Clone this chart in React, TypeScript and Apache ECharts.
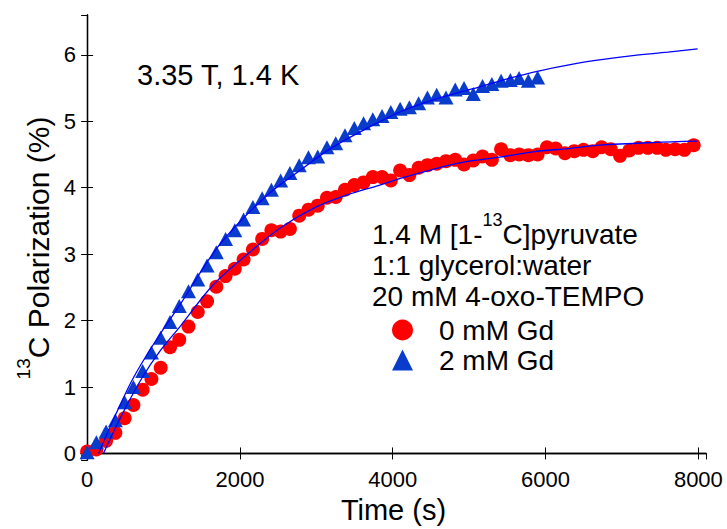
import React, { useEffect, useRef } from "react";
import * as echarts from "echarts";

const FONT = "'Liberation Sans', Arial, Helvetica, sans-serif";

// 0 mM Gd (red circles)
const timeRed = [0, 121, 248, 370, 491, 606, 727, 842, 963, 1085, 1206, 1327, 1448, 1570, 1691, 1812, 1933, 2048, 2170, 2291, 2412, 2533, 2654, 2776, 2897, 3018, 3139, 3254, 3375, 3497, 3618, 3739, 3860, 3975, 4097, 4218, 4339, 4454, 4575, 4697, 4818, 4933, 5054, 5175, 5297, 5418, 5539, 5654, 5775, 5896, 6018, 6133, 6254, 6375, 6497, 6618, 6733, 6854, 6975, 7096, 7218, 7339, 7460, 7575, 7696, 7817, 7939];
const polRed = [0.03, 0.06, 0.19, 0.31, 0.53, 0.73, 0.96, 1.12, 1.29, 1.6, 1.71, 1.91, 2.13, 2.29, 2.51, 2.67, 2.78, 2.92, 3.07, 3.23, 3.36, 3.34, 3.38, 3.58, 3.67, 3.73, 3.85, 3.86, 3.97, 4.04, 4.08, 4.16, 4.16, 4.11, 4.26, 4.19, 4.3, 4.34, 4.36, 4.4, 4.42, 4.35, 4.41, 4.47, 4.42, 4.58, 4.49, 4.5, 4.49, 4.5, 4.61, 4.59, 4.52, 4.55, 4.57, 4.55, 4.61, 4.58, 4.48, 4.56, 4.6, 4.6, 4.6, 4.57, 4.58, 4.57, 4.64];

// 2 mM Gd (blue triangles)
const timeBlue = [0, 121, 248, 370, 491, 606, 727, 842, 963, 1085, 1206, 1327, 1448, 1570, 1691, 1812, 1933, 2048, 2170, 2291, 2412, 2533, 2654, 2776, 2897, 3018, 3139, 3254, 3375, 3497, 3618, 3739, 3860, 3975, 4097, 4218, 4339, 4454, 4575, 4697, 4818, 4933, 5054, 5175, 5297, 5418, 5539, 5654, 5775, 5896];
const polBlue = [0.02, 0.17, 0.33, 0.5, 0.77, 1.0, 1.24, 1.52, 1.74, 1.98, 2.22, 2.44, 2.62, 2.83, 3.03, 3.23, 3.36, 3.52, 3.71, 3.84, 3.97, 4.11, 4.22, 4.34, 4.46, 4.47, 4.61, 4.67, 4.79, 4.9, 4.97, 5.03, 5.08, 5.14, 5.19, 5.21, 5.27, 5.36, 5.4, 5.36, 5.48, 5.5, 5.41, 5.53, 5.56, 5.61, 5.62, 5.65, 5.61, 5.66];

// fitted curves
const fitRedTime = [213, 450, 720, 960, 1216, 1651, 2088, 2523, 2958, 3395, 3830, 4100, 4600, 5000, 5400, 5834, 6300, 6706, 7400, 7991];
const fitRedPol = [0, 0.57, 1.14, 1.55, 1.91, 2.54, 2.99, 3.39, 3.69, 3.89, 4.04, 4.14, 4.3, 4.4, 4.46, 4.54, 4.59, 4.64, 4.68, 4.7];
const fitBlueTime = [150, 380, 606, 900, 1216, 1739, 2349, 2784, 3200, 3656, 4092, 4550, 5050, 5500, 5922, 6500, 7141, 7600, 7991];
const fitBluePol = [0, 0.6, 1.14, 1.7, 2.24, 3.15, 3.88, 4.26, 4.6, 4.89, 5.14, 5.33, 5.49, 5.64, 5.76, 5.89, 5.99, 6.04, 6.09];

const seriesNames = ["0 mM Gd", "2 mM Gd"];
const infoLines = ["1.4 M [1-{sup|13}C]pyruvate", "1:1 glycerol:water", "20 mM 4-oxo-TEMPO"];
const conditionText = "3.35 T, 1.4 K";
const yTitle = "{sup|13}C Polarization (%)";
const xTitle = "Time (s)";

const zip = (a: number[], b: number[]) => a.map((v, i) => [v, b[i]]);

export default function App() {
  const ref = useRef<HTMLDivElement>(null);
  useEffect(() => {
    if (!ref.current) return;
    const chart = echarts.init(ref.current, undefined, { renderer: "svg" });
    const axisLine = { show: true, lineStyle: { color: "#000", width: 1.3 } };
    const tick = { show: true, inside: true, length: 6, lineStyle: { color: "#000", width: 1 } };
    const option: any = {
      animation: false,
      backgroundColor: "#fff",
      grid: { left: 81, right: 21, top: 15, bottom: 66, containLabel: false },
      xAxis: [
        {
          type: "value", min: -80, max: 8100, splitNumber: 4, position: "bottom",
          name: xTitle, nameLocation: "middle", nameGap: 31,
          nameTextStyle: { fontSize: 29, color: "#000", fontFamily: FONT },
          axisLine, axisTick: tick, splitLine: { show: false },
          axisLabel: {
            showMinLabel: false, showMaxLabel: false, fontSize: 22, color: "#000", margin: 8, fontFamily: FONT,
            formatter: (v: number) => (v % 2000 === 0 ? String(v) : ""),
          },
        },
        {
          type: "value", min: -80, max: 8100, splitNumber: 4, position: "top",
          axisLine, axisTick: tick, splitLine: { show: false }, axisLabel: { show: false },
        },
      ],
      yAxis: [
        {
          type: "value", min: -0.1, max: 6.6, splitNumber: 7, position: "left",
          axisLine, axisTick: tick, splitLine: { show: false },
          axisLabel: {
            showMinLabel: false, showMaxLabel: false, fontSize: 22, color: "#000", margin: 5, fontFamily: FONT,
            formatter: (v: number) => (Math.abs(v - Math.round(v)) < 1e-9 ? String(Math.round(v)) : ""),
          },
        },
        {
          type: "value", min: -0.1, max: 6.6, splitNumber: 7, position: "right",
          axisLine, axisTick: tick, splitLine: { show: false }, axisLabel: { show: false },
        },
      ],
      legend: {
        orient: "vertical", left: 392, top: 316, itemWidth: 21, itemHeight: 21, itemGap: 2, padding: 0,
        data: seriesNames,
        textStyle: { fontSize: 28, color: "#000", fontFamily: FONT, padding: [0, 0, 0, 21] },
      },
      graphic: [
        {
          type: "text", x: 38, y: 248, rotation: Math.PI / 2,
          style: {
            text: yTitle, fontSize: 30, fontFamily: FONT, fill: "#000", align: "center", verticalAlign: "middle", lineHeight: 32,
            rich: { sup: { fontSize: 19, fontFamily: FONT, fill: "#000", lineHeight: 32, padding: [0, 0, 30, 0] } },
          },
        },
        {
          type: "text", x: 137, y: 75,
          style: { text: conditionText, fontSize: 29, fontFamily: FONT, fill: "#000", align: "left", verticalAlign: "middle" },
        },
        ...infoLines.map((t, i) => ({
          type: "text", x: 372, y: 234 + i * 31,
          style: {
            text: t, fontSize: 28, fontFamily: FONT, fill: "#000", align: "left", verticalAlign: "middle", lineHeight: 30,
            rich: { sup: { fontSize: 18, fontFamily: FONT, fill: "#000", lineHeight: 30, padding: [0, 0, 28, 0] } },
          },
        })),
      ],
      series: [
        {
          name: seriesNames[0], type: "scatter", data: zip(timeRed, polRed), symbol: "circle", symbolSize: 14,
          itemStyle: { color: "#ff0000", opacity: 1 }, z: 2,
        },
        {
          name: seriesNames[1], type: "scatter", data: zip(timeBlue, polBlue), symbol: "triangle", symbolSize: [15, 14],
          itemStyle: { color: "#0a3ccc", opacity: 1 }, z: 3,
        },
        {
          name: "fit 0 mM", type: "line", data: zip(fitRedTime, fitRedPol), showSymbol: false, smooth: 0.35,
          lineStyle: { color: "#0000ff", width: 1.3 }, z: 4, silent: true,
        },
        {
          name: "fit 2 mM", type: "line", data: zip(fitBlueTime, fitBluePol), showSymbol: false, smooth: 0.35,
          lineStyle: { color: "#0000ff", width: 1.3 }, z: 4, silent: true,
        },
      ],
    };
    chart.setOption(option);
    return () => chart.dispose();
  }, []);
  return <div ref={ref} style={{ position: "fixed", left: 0, top: 0, width: 727, height: 529 }} />;
}
